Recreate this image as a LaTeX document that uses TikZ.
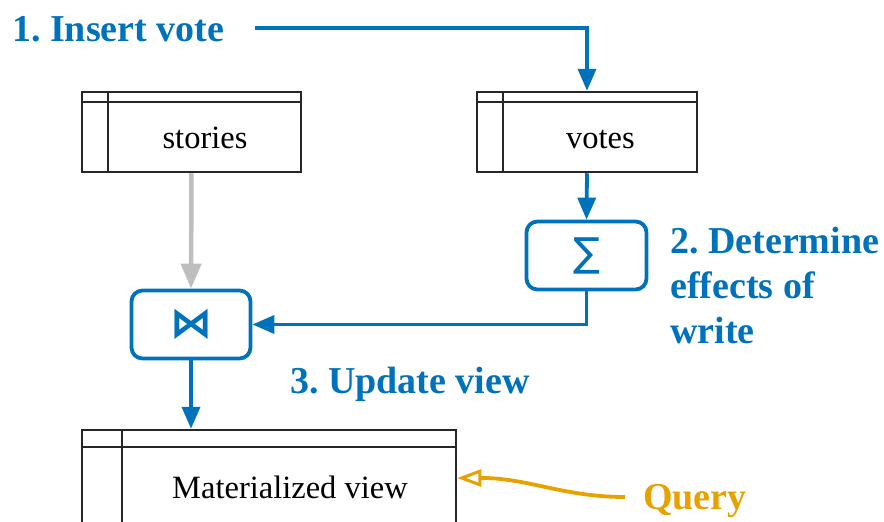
\documentclass[tikz,border=0pt]{standalone}
\usepackage{fontspec}
\setmainfont{Liberation Serif}
\newfontfamily\symfont{DejaVu Sans}
\newfontfamily\symboldfont{DejaVu Sans Bold}
\usetikzlibrary{arrows.meta}
\definecolor{flowblue}{RGB}{0,114,188}
\definecolor{queryorange}{RGB}{232,162,0}
\definecolor{readgray}{RGB}{190,190,190}
\begin{document}
\begin{tikzpicture}[x=1pt,y=-1pt,
  tablebox/.style={draw=black!85,line width=2.5pt,inner sep=0pt},
  tableline/.style={draw=black!85,line width=2.5pt},
  opbox/.style={draw=flowblue,line width=3.8pt,rounded corners=11pt,inner sep=0pt},
  tabletext/.style={font=\fontsize{32.5}{36}\selectfont,anchor=base,inner sep=0pt},
  bluelabel/.style={font=\fontsize{38}{45}\selectfont\bfseries,text=flowblue,inner sep=0pt},
  flow/.style={draw=flowblue,line width=3.8pt,-{Triangle[length=22pt,width=18pt]}},
  readflow/.style={draw=readgray,line width=4.5pt,-{Triangle[length=25pt,width=20pt]}},
]
\useasboundingbox (0,0) rectangle (884,522);

% base tables
\node[tablebox,minimum width=219pt,minimum height=80pt] (stories) at (191.5,132) {};
\draw[tableline] ([yshift=-11pt]stories.north west) -- ([yshift=-11pt]stories.north east);
\draw[tableline] ([xshift=27pt]stories.north west) -- ([xshift=27pt]stories.south west);
\node[tabletext] (storiesname) at (205,148) {stories};

\node[tablebox,minimum width=220pt,minimum height=80pt] (votes) at (587,132) {};
\draw[tableline] ([yshift=-11pt]votes.north west) -- ([yshift=-11pt]votes.north east);
\draw[tableline] ([xshift=27pt]votes.north west) -- ([xshift=27pt]votes.south west);
\node[tabletext] (votesname) at (600.5,148) {votes};

% materialized view table
\node[tablebox,minimum width=374pt,minimum height=110pt] (view) at (269,485) {};
\draw[tableline] ([yshift=-18pt]view.north west) -- ([yshift=-18pt]view.north east);
\draw[tableline] ([xshift=41pt]view.north west) -- ([xshift=41pt]view.south west);
\node[tabletext] (viewname) at (290,498) {Materialized view};

% operators
\node[opbox,minimum width=120pt,minimum height=68pt,text=flowblue,font=\symfont\fontsize{40}{40}\selectfont] (sum) at (586.5,255.5) {∑};
\node[opbox,minimum width=119pt,minimum height=68pt,text=flowblue,font=\symboldfont\fontsize{42}{42}\selectfont] (join) at (191,324.5) {⋈};

% labels
\node[bluelabel,anchor=base west] (insert) at (12,41) {1.\ Insert vote};
\node[bluelabel,anchor=base west,align=left] (effects) at (670,343) {2.\ Determine\\effects of\\write};
\node[bluelabel,anchor=base west] (update) at (290,393) {3.\ Update view};
\node[bluelabel,anchor=base west,text=queryorange] (query) at (643,509) {Query};

% write path
\coordinate (insertstart) at (255,28);
\draw[flow] (insertstart) -| (votes.north);
\draw[flow] (votes.south) -- (sum.north);
\draw[flow] (sum.south) |- (join.east);
\draw[flow] (join.south) -- (view.north -| join.south);

% read of the base table
\draw[readflow] (stories.south) -- (join.north);

% query path
\coordinate (querystart) at (625,497);
\coordinate (querybend) at (485,478);
\draw[queryorange,line width=3.8pt,-{Triangle[open,length=24pt,width=17pt,line width=3pt]}]
  (querystart) .. controls (565,497) and (530,479) .. (querybend) -- (view.east |- querybend);
\end{tikzpicture}
\end{document}
